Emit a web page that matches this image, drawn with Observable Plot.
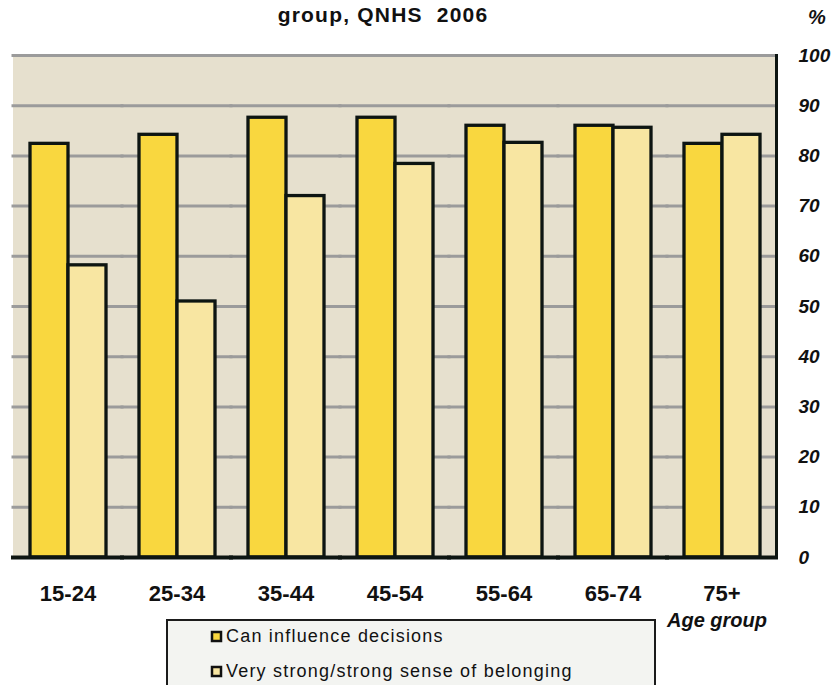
<!DOCTYPE html>
<html>
<head>
<meta charset="utf-8">
<script src="https://cdn.jsdelivr.net/npm/d3@7"></script>
<script src="https://cdn.jsdelivr.net/npm/@observablehq/plot@0.6"></script>
<style>
  body { margin: 0; background: #fff; }
  #wrap { position: relative; width: 838px; height: 685px; overflow: hidden;
          font-family: "Liberation Sans", Arial, sans-serif; color: #111; }
  #chart { position: absolute; left: 0; top: 0; }
  .title { position: absolute; left: 383px; top: 4px; transform: translateX(-50%);
           font-weight: bold; font-size: 21px; line-height: 1; letter-spacing: 1.2px; white-space: pre; }
  .pct { position: absolute; left: 808px; top: 7px; font-weight: bold; font-style: italic;
         font-size: 20px; line-height: 1; }
  .xlabel { position: absolute; left: 717px; top: 610px; transform: translateX(-50%);
            font-weight: bold; font-style: italic; font-size: 20px; line-height: 1; white-space: nowrap; }
  #legendbox { position: absolute; left: 166px; top: 619px; width: 442px; height: 90px;
               border: 2px solid #1b1b1b; background: #f3f4f1; padding-left: 44px; box-sizing: content-box; }
  .lg-swatches { font-family: "Liberation Sans", Arial, sans-serif; font-size: 18px; letter-spacing: 1.2px;
                 color: #111; margin: -2px 0 0 0; }
  .lg-swatches .lg-swatch { height: 35px; padding: 0; margin: 0; }
  .lg-swatches .lg-swatch > svg { margin-right: 5px; }
  .lg-swatches .lg-swatch svg rect { stroke: #111; stroke-width: 2.5px; }
</style>
</head>
<body>
<div id="wrap">
  <div id="chart"></div>
  <div class="title">group, QNHS  2006</div>
  <div class="pct">%</div>
  <div class="xlabel">Age group</div>
  <div id="legendbox"></div>
</div>
<script>
// ---- data ----
const ageGroups = ["15-24", "25-34", "35-44", "45-54", "55-64", "65-74", "75+"];
const series = ["Can influence decisions", "Very strong/strong sense of belonging"];
const influence = [82.4, 84.2, 87.6, 87.6, 86.0, 86.0, 82.4];
const belonging = [58.2, 51.0, 72.0, 78.4, 82.6, 85.6, 84.2];
const yTicks = [0, 10, 20, 30, 40, 50, 60, 70, 80, 90, 100];

// ---- styles ----
const seriesColors = ["#F9D73F", "#F8E6A2"];
const panelColor = "#E6E0CE";
const gridColor = "#9B9B9B";
const edgeColor = "#0D1512";

const table = ageGroups.flatMap((a, i) => [
  {age: a, series: series[0], value: influence[i]},
  {age: a, series: series[1], value: belonging[i]}
]);

const chart = Plot.plot({
  width: 838,
  height: 610,
  marginTop: 55,
  marginBottom: 53,
  marginLeft: 11,
  marginRight: 61,
  style: {fontFamily: "Liberation Sans, Arial, sans-serif", color: "#111", background: "transparent", overflow: "visible"},
  fx: {domain: ageGroups, padding: 0, label: null},
  x: {domain: series, axis: null, paddingInner: 0, paddingOuter: 0.43},
  y: {domain: [0, 100], label: null},
  color: {domain: series, range: seriesColors},
  marks: [
    Plot.frame({fill: panelColor, stroke: panelColor, strokeWidth: 1}),
    Plot.ruleY(yTicks.filter(d => d > 0), {stroke: gridColor, strokeWidth: 3, strokeLinecap: "square"}),
    Plot.barY(table, {fx: "age", x: "series", y: "value", fill: "series", stroke: edgeColor, strokeWidth: 3.3}),
    Plot.ruleY([0], {stroke: edgeColor, strokeWidth: 4, strokeLinecap: "square"}),
    Plot.frame({anchor: "right", stroke: edgeColor, strokeWidth: 3, fx: () => ageGroups[ageGroups.length - 1]}),
    Plot.axisY({anchor: "right", ticks: yTicks, tickSize: 0, tickPadding: 22, fontSize: 19,
                fontWeight: "bold", fontStyle: "italic", label: null}),
    Plot.axisFx({anchor: "bottom", tickSize: 0, tickPadding: 28, fontSize: 22, fontWeight: "bold", label: null})
  ]
});
document.getElementById("chart").appendChild(chart);

const legend = chart.legend("color", {columns: 1, swatchSize: 9, className: "lg"});
document.getElementById("legendbox").appendChild(legend);
</script>
</body>
</html>
